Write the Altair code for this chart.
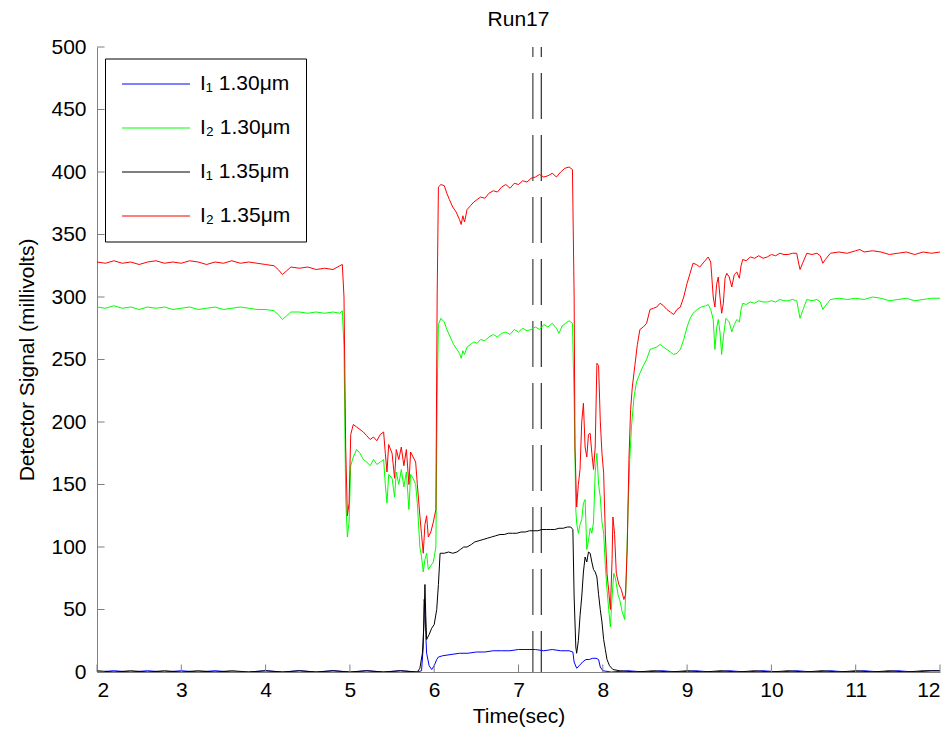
import altair as alt
import pandas as pd

series_names = ["I\u2081 1.30\u03bcm", "I\u2082 1.30\u03bcm", "I\u2081 1.35\u03bcm", "I\u2082 1.35\u03bcm"]
series_colors = ["#0000ff", "#00ff00", "#000000", "#ff0000"]

# I1 1.30um (blue)
blue_t = [2.0, 2.2, 2.4, 2.6, 2.8, 3.0, 3.2, 3.4, 3.6, 3.8, 4.0, 4.2, 4.4, 4.6, 4.8, 5.0, 5.2, 5.4, 5.6, 5.8,
          5.85, 5.87, 5.88, 5.89, 5.90, 5.91, 5.94, 5.97, 6.00, 6.03, 6.05, 6.10, 6.20, 6.30, 6.40, 6.50, 6.60,
          6.70, 6.80, 6.90, 7.00, 7.10, 7.20, 7.30, 7.40, 7.50, 7.60, 7.645, 7.66, 7.69, 7.72, 7.76, 7.80, 7.84,
          7.88, 7.92, 7.95, 7.97, 8.00, 8.10, 8.3, 8.5, 8.7, 8.9, 9.1, 9.3, 9.5, 9.7, 9.9, 10.1, 10.3, 10.5,
          10.7, 10.9, 11.1, 11.3, 11.5, 11.7, 11.9, 12.0]
blue_v = [0, 1, 0, 1, 0, 1, 0, 1, 0, 0, 1, 0, 1, 0, 1, 0, 1, 0, 1, 0,
          1, 20, 58, 55, 30, 15, 5, 2, 5, 10, 12, 13, 14, 15, 15, 16, 16,
          17, 17, 17, 18, 18, 18, 17, 18, 17, 17, 16, 8, 3, 5, 8, 10, 10,
          11, 11, 10, 4, 1, 0, 1, 0, 1, 0, 1, 0, 1, 0, 1, 0, 1, 0,
          1, 0, 1, 0, 1, 0, 1, 1]

# I2 1.30um (green)
green_t = [2.0, 2.1, 2.2, 2.3, 2.4, 2.5, 2.6, 2.7, 2.8, 2.9, 3.0, 3.1, 3.2, 3.3, 3.4, 3.5, 3.6, 3.7, 3.8, 3.9,
           4.0, 4.1, 4.15, 4.2, 4.25, 4.3, 4.4, 4.5, 4.6, 4.7, 4.8, 4.88, 4.91, 4.93, 4.95, 4.97, 4.99, 5.01,
           5.04, 5.08, 5.12, 5.16, 5.20, 5.24, 5.28, 5.32, 5.36, 5.40, 5.42, 5.44, 5.46, 5.50, 5.53, 5.55,
           5.58, 5.61, 5.64, 5.67, 5.70, 5.72, 5.75, 5.78, 5.80, 5.83, 5.85, 5.87, 5.89, 5.91, 5.93, 5.96,
           5.99, 6.02, 6.035, 6.05, 6.08, 6.12, 6.15, 6.19, 6.23, 6.27, 6.30, 6.32, 6.34, 6.36, 6.39, 6.43,
           6.47, 6.51, 6.55, 6.60, 6.65, 6.70, 6.75, 6.80, 6.85, 6.90, 6.95, 7.00, 7.05, 7.10, 7.15, 7.20,
           7.25, 7.30, 7.35, 7.40, 7.45, 7.48, 7.52, 7.56, 7.60, 7.64, 7.66, 7.68, 7.69, 7.71, 7.73, 7.75,
           7.77, 7.79, 7.81, 7.83, 7.85, 7.87, 7.89, 7.91, 7.93, 7.95, 7.97, 7.99, 8.01, 8.03, 8.05, 8.07,
           8.09, 8.11, 8.13, 8.15, 8.18, 8.20, 8.23, 8.26, 8.28, 8.30, 8.32, 8.34, 8.37, 8.40, 8.44, 8.48,
           8.52, 8.56, 8.60, 8.64, 8.68, 8.72, 8.76, 8.80, 8.84, 8.88, 8.92, 8.96, 9.00, 9.03, 9.07, 9.12,
           9.17, 9.22, 9.25, 9.28, 9.31, 9.33, 9.35, 9.37, 9.39, 9.41, 9.43, 9.46, 9.50, 9.53, 9.56, 9.59,
           9.62, 9.64, 9.66, 9.70, 9.75, 9.80, 9.85, 9.90, 9.95, 10.0, 10.05, 10.10, 10.15, 10.20, 10.25,
           10.30, 10.32, 10.34, 10.37, 10.42, 10.48, 10.54, 10.58, 10.61, 10.64, 10.70, 10.80, 10.90, 11.00,
           11.10, 11.20, 11.30, 11.40, 11.50, 11.60, 11.70, 11.80, 11.90, 12.0]
green_v = [292, 291, 293, 291, 292, 290, 292, 291, 292, 290, 291, 292, 290, 291, 292, 290, 291, 292, 291, 290,
           290, 289, 286, 282, 285, 288, 288, 287, 288, 287, 288, 287, 289, 260, 140, 108, 120, 165,
           172, 178, 175, 170, 168, 165, 170, 166, 168, 170, 150, 135, 158, 155, 140, 160,
           150, 162, 148, 160, 130, 158, 155, 150, 135, 100, 92, 80, 90, 95, 82, 85,
           88, 100, 220, 278, 283, 280, 274, 268, 262, 258, 255, 251, 257, 254, 260, 262,
           264, 263, 266, 265, 268, 270, 268, 271, 272, 270, 274, 272, 275, 273, 274, 276,
           274, 278, 276, 279, 275, 271, 277, 279, 281, 279, 218, 130, 119, 111, 118, 122,
           135, 138, 98, 105, 115, 111, 120, 160, 175, 150, 140, 120, 111, 85, 66, 50,
           36, 60, 79, 75, 62, 58, 48, 42, 80, 132, 170, 196, 220, 232, 239, 245,
           250, 258, 259, 260, 262, 260, 258, 256, 254, 255, 258, 266, 276, 282, 287, 290,
           292, 293, 294, 290, 282, 258, 275, 282, 272, 254, 268, 283, 280, 272, 278, 282,
           280, 290, 295, 294, 296, 295, 297, 296, 296, 297, 296, 298, 297, 297, 298,
           297, 290, 283, 289, 298, 297, 298, 296, 290, 293, 298, 299, 298, 299,
           298, 300, 299, 297, 298, 299, 297, 298, 299, 299]

# I1 1.35um (black)
black_t = [2.0, 2.2, 2.4, 2.6, 2.8, 3.0, 3.2, 3.4, 3.6, 3.8, 4.0, 4.2, 4.4, 4.6, 4.8, 5.0, 5.2, 5.4, 5.6, 5.8,
           5.83, 5.86, 5.88, 5.89, 5.90, 5.91, 5.94, 5.97, 6.00, 6.03, 6.05, 6.07, 6.12, 6.17, 6.22, 6.27,
           6.31, 6.35, 6.39, 6.44, 6.48, 6.53, 6.58, 6.63, 6.68, 6.73, 6.78, 6.83, 6.88, 6.93, 6.98, 7.03,
           7.08, 7.13, 7.18, 7.23, 7.28, 7.33, 7.38, 7.43, 7.48, 7.53, 7.58, 7.62, 7.645, 7.66, 7.68, 7.69,
           7.71, 7.73, 7.75, 7.77, 7.79, 7.81, 7.83, 7.85, 7.87, 7.89, 7.91, 7.93, 7.95, 7.97, 7.99, 8.01,
           8.03, 8.05, 8.08, 8.12, 8.2, 8.4, 8.6, 8.8, 9.0, 9.2, 9.4, 9.6, 9.8, 10.0, 10.2, 10.4, 10.6,
           10.8, 11.0, 11.2, 11.4, 11.6, 11.8, 12.0]
black_v = [1, 0, 1, 0, 1, 0, 1, 0, 1, 0, 1, 0, 1, 0, 1, 0, 1, 0, 1, 0,
           3, 15, 40, 70, 45, 26, 30, 35, 38, 50, 70, 95, 95, 96, 95, 96,
           98, 100, 100, 102, 104, 105, 106, 107, 108, 109, 110, 110, 111, 111, 111, 112,
           112, 113, 113, 113, 114, 114, 114, 114, 115, 115, 116, 116, 114, 60, 20, 15,
           25, 45, 60, 80, 92, 88, 96, 95, 88, 82, 80, 76, 62, 50, 40, 26,
           18, 10, 5, 2, 1, 0, 1, 0, 1, 0, 1, 0, 1, 0, 1, 0, 1,
           0, 1, 0, 1, 0, 1, 1]

# I2 1.35um (red)
red_t = [2.0, 2.1, 2.2, 2.3, 2.4, 2.5, 2.6, 2.7, 2.8, 2.9, 3.0, 3.1, 3.2, 3.3, 3.4, 3.5, 3.6, 3.7, 3.8, 3.9,
         4.0, 4.1, 4.15, 4.2, 4.25, 4.3, 4.4, 4.5, 4.6, 4.7, 4.8, 4.88, 4.91, 4.93, 4.95, 4.97, 4.99, 5.01,
         5.04, 5.08, 5.12, 5.16, 5.20, 5.24, 5.28, 5.32, 5.36, 5.40, 5.42, 5.44, 5.46, 5.50, 5.53, 5.55,
         5.58, 5.61, 5.64, 5.67, 5.70, 5.72, 5.75, 5.78, 5.80, 5.83, 5.85, 5.87, 5.89, 5.91, 5.93, 5.96,
         5.99, 6.02, 6.035, 6.05, 6.08, 6.12, 6.15, 6.18, 6.22, 6.26, 6.30, 6.32, 6.34, 6.36, 6.39, 6.43,
         6.47, 6.51, 6.55, 6.60, 6.65, 6.70, 6.75, 6.80, 6.85, 6.90, 6.95, 7.00, 7.05, 7.10, 7.15, 7.20,
         7.25, 7.30, 7.35, 7.40, 7.45, 7.50, 7.55, 7.60, 7.64, 7.66, 7.67, 7.69, 7.71, 7.73, 7.75, 7.77,
         7.79, 7.81, 7.83, 7.85, 7.87, 7.89, 7.91, 7.93, 7.95, 7.97, 7.99, 8.01, 8.03, 8.05, 8.07, 8.09,
         8.11, 8.12, 8.14, 8.16, 8.19, 8.22, 8.25, 8.27, 8.29, 8.31, 8.33, 8.35, 8.38, 8.41, 8.44, 8.48,
         8.52, 8.56, 8.60, 8.64, 8.68, 8.72, 8.76, 8.80, 8.84, 8.88, 8.92, 8.96, 9.00, 9.04, 9.07, 9.11,
         9.15, 9.20, 9.25, 9.28, 9.29, 9.31, 9.33, 9.35, 9.37, 9.39, 9.41, 9.43, 9.45, 9.47, 9.50, 9.53,
         9.56, 9.59, 9.62, 9.64, 9.66, 9.70, 9.75, 9.80, 9.85, 9.90, 9.95, 10.0, 10.05, 10.10, 10.15,
         10.20, 10.25, 10.30, 10.32, 10.34, 10.37, 10.42, 10.48, 10.54, 10.58, 10.61, 10.64, 10.70, 10.80,
         10.90, 11.00, 11.05, 11.10, 11.20, 11.30, 11.40, 11.50, 11.60, 11.70, 11.80, 11.90, 12.0]
red_v = [328, 327, 329, 327, 328, 326, 328, 329, 327, 328, 327, 329, 328, 326, 328, 327, 329, 327, 328, 327,
         326, 325, 322, 318, 321, 324, 323, 324, 322, 323, 322, 325, 326, 300, 180, 125, 135, 190,
         198, 196, 194, 192, 189, 186, 188, 185, 190, 192, 175, 160, 182, 175, 155, 178,
         170, 180, 165, 178, 150, 176, 172, 168, 150, 125, 110, 95, 118, 125, 108, 112,
         120, 130, 300, 388, 390, 389, 383, 378, 372, 368, 362, 358, 365, 360, 370, 373,
         376, 378, 380, 379, 383, 385, 384, 388, 390, 387, 391, 390, 393, 392, 395, 396,
         398, 396, 397, 399, 396, 400, 403, 404, 402, 300, 180, 132, 150, 162, 200, 215,
         180, 172, 190, 191, 175, 162, 180, 247, 245, 201, 175, 159, 110, 79, 65, 50,
         90, 124, 110, 79, 70, 66, 58, 62, 100, 170, 210, 228, 245, 262, 274, 276,
         279, 290, 291, 292, 295, 293, 290, 288, 286, 290, 292, 300, 311, 320, 327, 326,
         324, 328, 332, 328, 319, 300, 292, 310, 316, 300, 287, 295, 315, 319, 316, 308,
         318, 320, 315, 325, 330, 329, 332, 331, 333, 331, 332, 334, 333, 335, 334,
         334, 335, 335, 328, 322, 327, 335, 334, 335, 333, 327, 330, 335, 336,
         335, 337, 338, 336, 337, 336, 334, 335, 336, 334, 336, 335, 336]

x_ticks = [2, 3, 4, 5, 6, 7, 8, 9, 10, 11, 12]
y_ticks = [0, 50, 100, 150, 200, 250, 300, 350, 400, 450, 500]
marker_times = [7.17, 7.27]

rows = []
for name, ts, vs in [(series_names[0], blue_t, blue_v), (series_names[1], green_t, green_v),
                     (series_names[2], black_t, black_v), (series_names[3], red_t, red_v)]:
    for t, v in zip(ts, vs):
        rows.append({"t": t, "v": v, "s": name})
df = pd.DataFrame(rows)

FONT = "Liberation Sans"
FS = 21
AXIS_GRAY = "#808080"

xscale = alt.Scale(domain=[2, 12], nice=False, zero=False)
yscale = alt.Scale(domain=[0, 500], nice=False)

lines = alt.Chart(df).mark_line(strokeWidth=1, clip=True).encode(
    x=alt.X("t:Q", scale=xscale,
            axis=alt.Axis(title="Time(sec)", values=x_ticks, ticks=False, grid=False,
                          labelFontSize=FS, labelPadding=7, titleFontSize=FS,
                          titleFontWeight="normal", titlePadding=5, format="d")),
    y=alt.Y("v:Q", scale=yscale,
            axis=alt.Axis(title="Detector Signal (millivolts)", values=y_ticks, ticks=False,
                          grid=False, labelFontSize=FS, labelPadding=11, titleFontSize=FS,
                          titleFontWeight="normal", titlePadding=13, format="d")),
    color=alt.Color("s:N", scale=alt.Scale(domain=series_names, range=series_colors),
                    legend=alt.Legend(title=None, orient="none", legendX=8, legendY=11.5,
                                      symbolType="M-1,0H7", symbolSize=289, symbolStrokeWidth=1.2,
                                      labelFontSize=FS, labelFont=FONT, labelOffset=59,
                                      rowPadding=22, padding=15, strokeColor="black",
                                      fillColor="white", labelLimit=300)),
    detail="s:N",
)

xt = alt.Chart(pd.DataFrame({"t": x_ticks})).mark_rule(color=AXIS_GRAY, strokeWidth=1).encode(
    x=alt.X("t:Q", scale=xscale), y=alt.datum(0), y2=alt.datum(6))
yt = alt.Chart(pd.DataFrame({"v": y_ticks})).mark_rule(color=AXIS_GRAY, strokeWidth=1).encode(
    y=alt.Y("v:Q", scale=yscale), x=alt.datum(2), x2=alt.datum(2.09))

dash1 = alt.Chart(pd.DataFrame({"t": [marker_times[0]]})).mark_rule(
    color="#707070", strokeWidth=1.6, strokeDash=[46, 16], strokeDashOffset=36).encode(
    x=alt.X("t:Q", scale=xscale), y=alt.datum(500), y2=alt.datum(0))
dash2 = alt.Chart(pd.DataFrame({"t": [marker_times[1]]})).mark_rule(
    color="#000000", strokeWidth=1, strokeDash=[46, 16], strokeDashOffset=36).encode(
    x=alt.X("t:Q", scale=xscale), y=alt.datum(500), y2=alt.datum(0))

chart = alt.layer(dash1, dash2, lines, xt, yt).properties(
    width=843, height=625,
    title=alt.TitleParams("Run17", fontSize=FS, fontWeight="normal", font=FONT, offset=6),
    padding={"left": 97, "top": 47, "right": 12, "bottom": 59},
    autosize=alt.AutoSizeParams(type="none"),
).configure(font=FONT).configure_view(stroke=None).configure_axis(
    domainColor=AXIS_GRAY, labelColor="black", titleColor="black", labelFont=FONT, titleFont=FONT
)

chart.save("out.html", embed_options={"renderer": "svg", "actions": False})
